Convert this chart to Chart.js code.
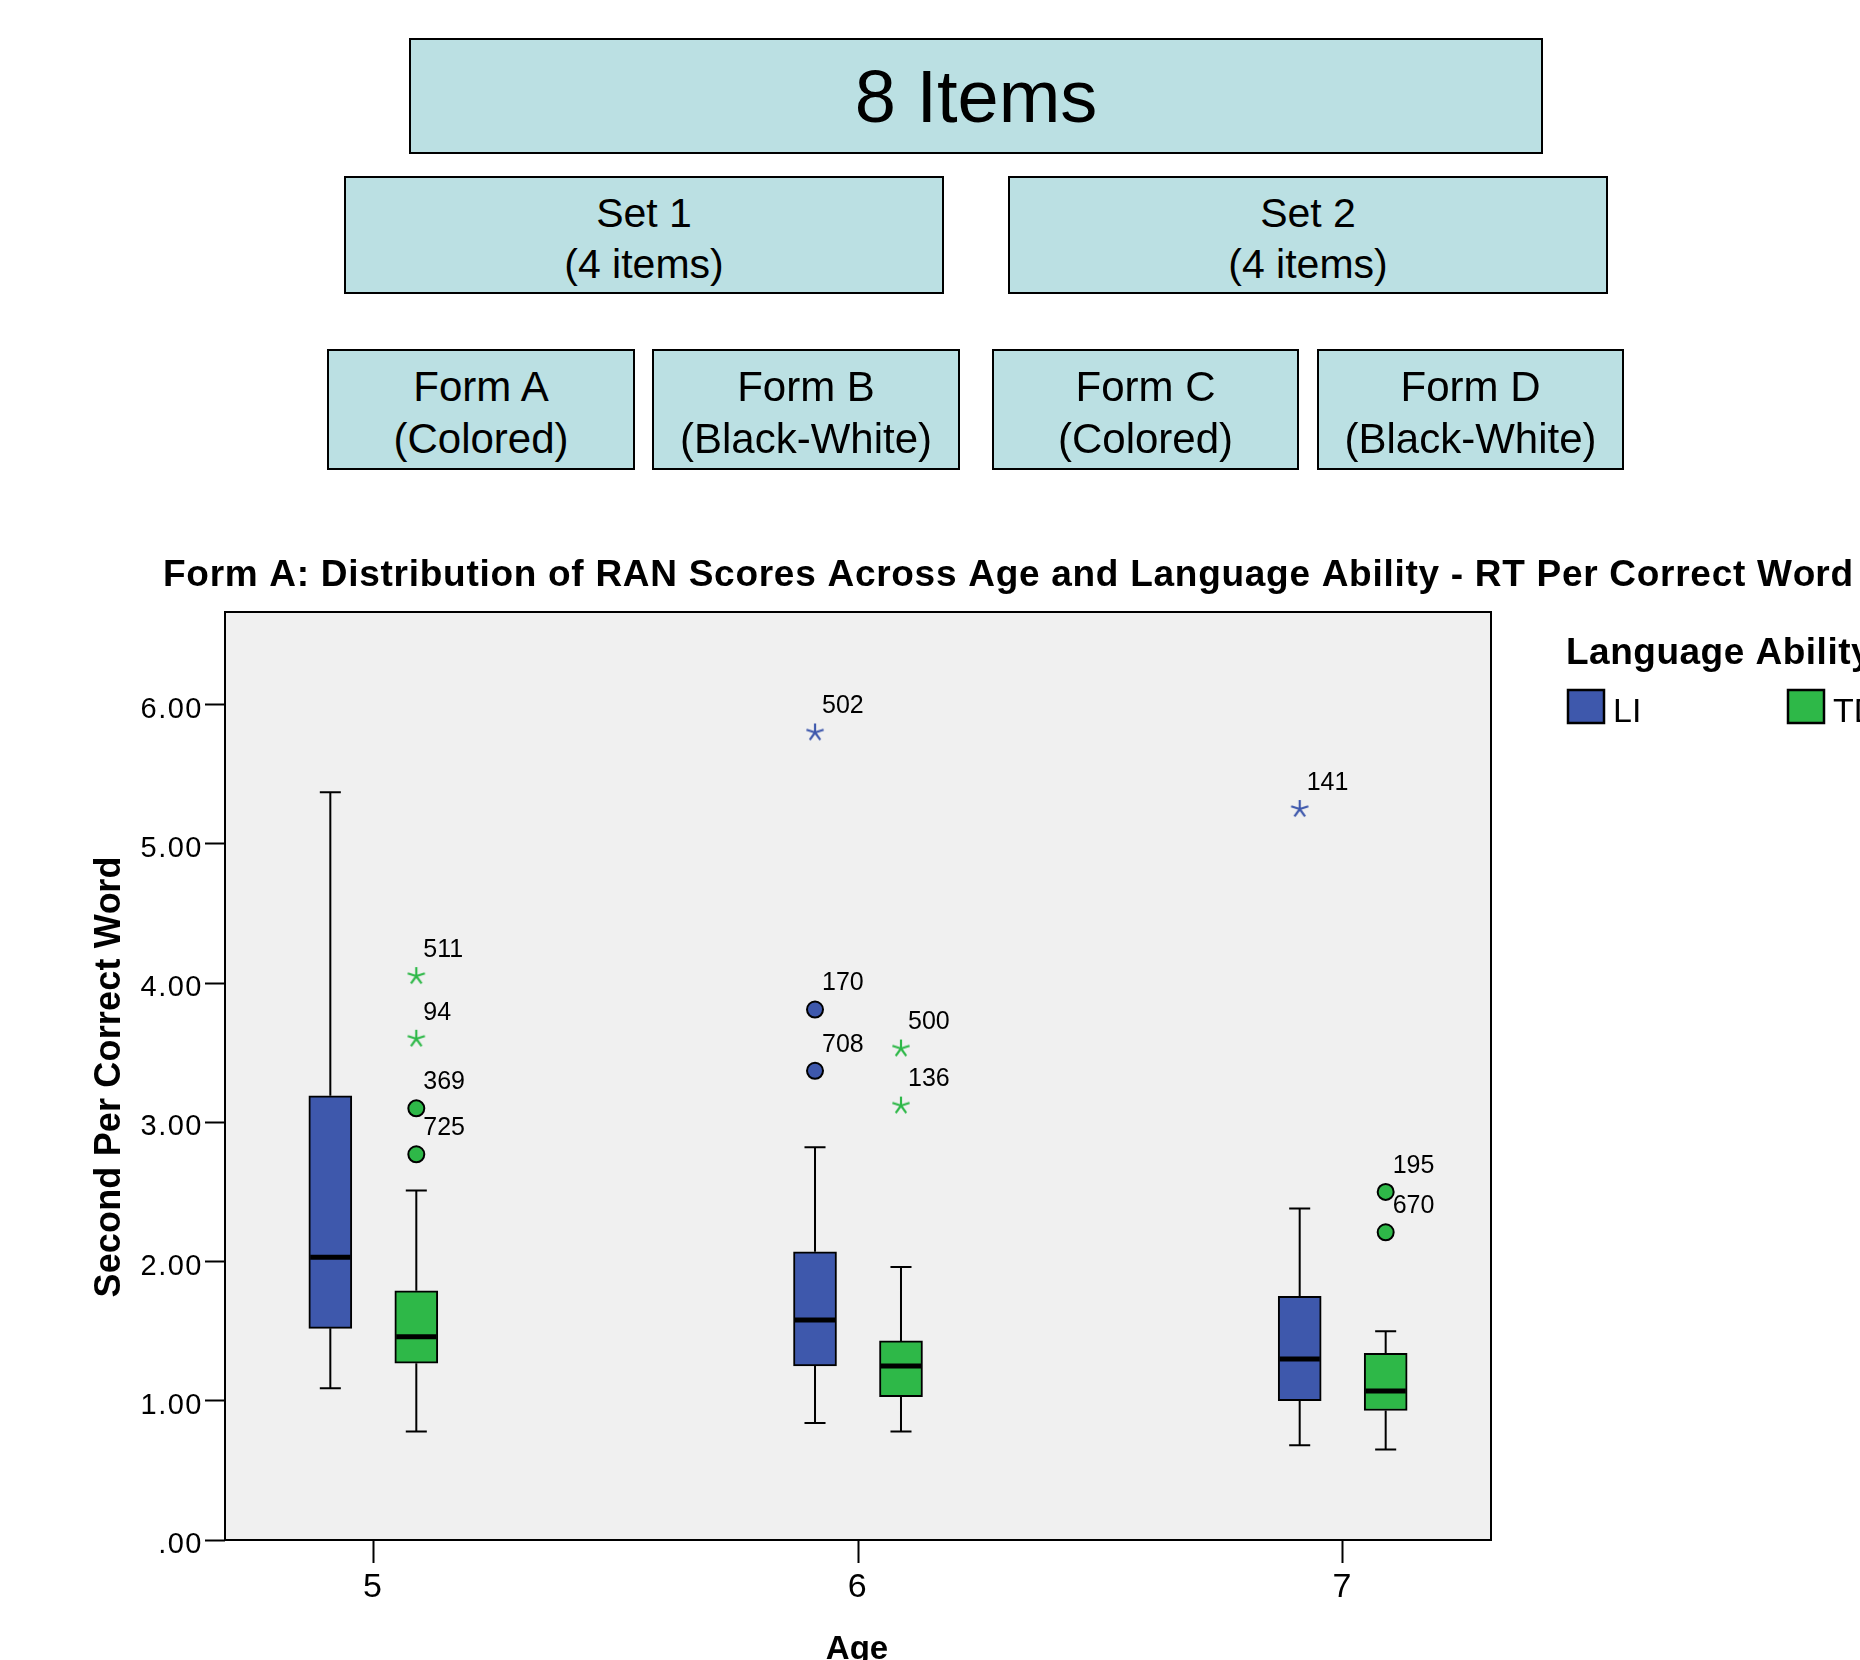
<!DOCTYPE html>
<html>
<head>
<meta charset="utf-8">
<title>Form A: Distribution of RAN Scores</title>
<script src="https://cdn.jsdelivr.net/npm/chart.js"></script>
<style>
  html, body { margin:0; padding:0; background:#ffffff; }
  #wrap { position:relative; width:1860px; height:1660px; overflow:hidden; background:#fff; }
  #chart { position:absolute; left:0; top:0; width:1860px; height:1660px; }
  .node { position:absolute; box-sizing:border-box; background:#BBE0E3; border:2px solid #000;
          font-family:"Liberation Sans", Arial, sans-serif; color:#000; text-align:center;
          display:flex; flex-direction:column; justify-content:center; align-items:center; }
  .node div { white-space:nowrap; }
</style>
</head>
<body>
<div id="wrap"><canvas id="chart" width="1860" height="1660"></canvas></div>
<script>
// ---------------- DATA ----------------
const ages = [5, 6, 7];
const xTickLabels = ['5', '6', '7'];
const yTickValues = [0, 1, 2, 3, 4, 5, 6];
const yTickLabels = ['.00', '1.00', '2.00', '3.00', '4.00', '5.00', '6.00'];
const groupNames = ['LI', 'TD'];

// LI box statistics per age
const liMin    = [1.09, 0.84, 0.68];
const liQ1     = [1.52, 1.25, 1.00];
const liMedian = [2.03, 1.58, 1.30];
const liQ3     = [3.19, 2.07, 1.75];
const liMax    = [5.37, 2.82, 2.38];

// TD box statistics per age
const tdMin    = [0.78, 0.78, 0.65];
const tdQ1     = [1.27, 1.03, 0.93];
const tdMedian = [1.46, 1.25, 1.07];
const tdQ3     = [1.79, 1.43, 1.34];
const tdMax    = [2.51, 1.96, 1.50];

// Outliers (circle) and extremes (star)
const liOutAge     = [6, 6, 6, 7];
const liOutValue   = [5.80, 3.81, 3.37, 5.25];
const liOutId      = ['502', '170', '708', '141'];
const liOutExtreme = [true, false, false, true];

const tdOutAge     = [5, 5, 5, 5, 6, 6, 7, 7];
const tdOutValue   = [4.05, 3.60, 3.10, 2.77, 3.53, 3.12, 2.50, 2.21];
const tdOutId      = ['511', '94', '369', '725', '500', '136', '195', '670'];
const tdOutExtreme = [true, true, false, false, true, true, false, false];

const titleText = 'Form A: Distribution of RAN Scores Across Age and Language Ability - RT Per Correct Word';
const yTitle = 'Second Per Correct Word';
const xTitle = 'Age';
const legendTitle = 'Language Ability';

// Diagram above the chart
const diagram = [
  { lines: ['8 Items'], x: 409, y: 38, w: 1134, h: 116, font: 74, lh: null, nudge: 0 },
  { lines: ['Set 1', '(4 items)'], x: 344, y: 176, w: 600, h: 118, font: 41, lh: 51, nudge: 7 },
  { lines: ['Set 2', '(4 items)'], x: 1008, y: 176, w: 600, h: 118, font: 41, lh: 51, nudge: 7 },
  { lines: ['Form A', '(Colored)'], x: 327, y: 349, w: 308, h: 121, font: 42, lh: 52, nudge: 6 },
  { lines: ['Form B', '(Black-White)'], x: 652, y: 349, w: 308, h: 121, font: 42, lh: 52, nudge: 6 },
  { lines: ['Form C', '(Colored)'], x: 992, y: 349, w: 307, h: 121, font: 42, lh: 52, nudge: 6 },
  { lines: ['Form D', '(Black-White)'], x: 1317, y: 349, w: 307, h: 121, font: 42, lh: 52, nudge: 6 }
];

// ---------------- DIAGRAM ----------------
const wrap = document.getElementById('wrap');
diagram.forEach(n => {
  const d = document.createElement('div');
  d.className = 'node';
  d.style.left = n.x + 'px'; d.style.top = n.y + 'px';
  d.style.width = n.w + 'px'; d.style.height = n.h + 'px';
  d.style.fontSize = n.font + 'px';
  if (n.lh) d.style.lineHeight = n.lh + 'px';
  d.style.paddingTop = n.nudge + 'px';
  n.lines.forEach(t => { const l = document.createElement('div'); l.textContent = t; d.appendChild(l); });
  wrap.appendChild(d);
});

// ---------------- CHART ----------------
const FONT = '"Liberation Sans", Arial, Helvetica, sans-serif';
Chart.defaults.font.family = FONT;
Chart.defaults.color = '#000';

const liColor = '#3E58AC';
const tdColor = '#2EB848';
const DODGE = 0.0887, CAP_HALF = 0.0217, MED_HALF = 0.0415;

function makeStar(color) {
  const c = document.createElement('canvas');
  c.width = 22; c.height = 22;
  const g = c.getContext('2d');
  g.strokeStyle = color; g.lineWidth = 2.2; g.lineCap = 'butt';
  g.translate(11, 11);
  for (let k = 0; k < 5; k++) {
    const a = -Math.PI / 2 + k * 2 * Math.PI / 5;
    g.beginPath(); g.moveTo(0, 0); g.lineTo(9 * Math.cos(a), 9 * Math.sin(a)); g.stroke();
  }
  return c;
}

const seriesList = [
  { name: groupNames[0], color: liColor, off: -DODGE, min: liMin, q1: liQ1, med: liMedian, q3: liQ3, max: liMax,
    oAge: liOutAge, oVal: liOutValue, oId: liOutId, oExt: liOutExtreme },
  { name: groupNames[1], color: tdColor, off: DODGE, min: tdMin, q1: tdQ1, med: tdMedian, q3: tdQ3, max: tdMax,
    oAge: tdOutAge, oVal: tdOutValue, oId: tdOutId, oExt: tdOutExtreme }
];

const datasets = [];
seriesList.forEach(s => {
  datasets.push({
    type: 'bar', label: s.name,
    data: ages.map((a, i) => ({ x: a + s.off, y: [s.q1[i], s.q3[i]] })),
    backgroundColor: s.color, borderColor: '#000', borderWidth: 2, borderSkipped: false,
    barThickness: 43, grouped: false, order: 2
  });
  const w = [];
  ages.forEach((a, i) => {
    const c = a + s.off;
    w.push({ x: c, y: s.q3[i] }, { x: c, y: s.max[i] }, { x: c, y: null },
           { x: c - CAP_HALF, y: s.max[i] }, { x: c + CAP_HALF, y: s.max[i] }, { x: c, y: null },
           { x: c, y: s.q1[i] }, { x: c, y: s.min[i] }, { x: c, y: null },
           { x: c - CAP_HALF, y: s.min[i] }, { x: c + CAP_HALF, y: s.min[i] }, { x: c, y: null });
  });
  datasets.push({ type: 'line', label: s.name + ' whiskers', data: w, borderColor: '#000', borderWidth: 2,
    pointRadius: 0, pointHoverRadius: 0, spanGaps: false, fill: false, tension: 0, order: 3 });
  const m = [];
  ages.forEach((a, i) => {
    const c = a + s.off;
    m.push({ x: c - MED_HALF, y: s.med[i] }, { x: c + MED_HALF, y: s.med[i] }, { x: c, y: null });
  });
  datasets.push({ type: 'line', label: s.name + ' median', data: m, borderColor: '#000', borderWidth: 5,
    borderCapStyle: 'butt', pointRadius: 0, pointHoverRadius: 0, spanGaps: false, fill: false, tension: 0, order: 1 });
  const circ = [], star = [];
  s.oAge.forEach((a, i) => {
    const p = { x: a + s.off, y: s.oVal[i], id: s.oId[i] };
    (s.oExt[i] ? star : circ).push(p);
  });
  datasets.push({ type: 'scatter', label: s.name + ' outliers', data: circ, pointStyle: 'circle',
    pointRadius: 8, pointHoverRadius: 8, backgroundColor: s.color, borderColor: '#000', borderWidth: 2,
    order: 0, outlier: true });
  datasets.push({ type: 'scatter', label: s.name + ' extremes', data: star, pointStyle: makeStar(s.color),
    pointRadius: 9, pointHoverRadius: 9, order: 0, outlier: true });
});

// text with horizontal stretch (sx), letter spacing (ls) and extra word spacing (ws);
// if opts.width is given, letter spacing is computed to fill that width.
function spacedText(ctx, text, x, y, font, opts) {
  ctx.save();
  if ('letterSpacing' in ctx) ctx.letterSpacing = '0px';
  ctx.font = font;
  ctx.fillStyle = '#000';
  ctx.textBaseline = 'alphabetic';
  ctx.textAlign = 'left';
  const sx = opts.sx || 1;
  const ws = opts.ws || 0;
  const n = text.length;
  const spaces = (text.match(/ /g) || []).length;
  const natural = ctx.measureText(text).width * sx;
  let ls = opts.ls || 0;
  if (opts.width) ls = (opts.width - natural - spaces * ws) / (n - 1);
  const total = natural + ls * (n - 1) + spaces * ws;
  ctx.translate(x, y);
  if (opts.rotate) ctx.rotate(opts.rotate);
  let start = 0;
  if (opts.align === 'center') start = -total / 2;
  else if (opts.align === 'right') start = -total;
  let extra = 0;
  for (let i = 0; i < n; i++) {
    const pos = start + ctx.measureText(text.slice(0, i)).width * sx + ls * i + extra;
    ctx.save();
    ctx.translate(pos, 0);
    ctx.scale(sx, 1);
    ctx.fillText(text[i], 0, 0);
    ctx.restore();
    if (text[i] === ' ') extra += ws;
  }
  ctx.restore();
}

const decor = {
  id: 'decor',
  beforeDraw(chart) {
    const { ctx, chartArea: a } = chart;
    ctx.save();
    ctx.fillStyle = '#F0F0F0';
    ctx.fillRect(a.left, a.top, a.right - a.left, a.bottom - a.top);
    ctx.restore();
    if ('letterSpacing' in ctx) ctx.letterSpacing = '1.5px';
  },
  beforeDatasetsDraw(chart) {
    if ('letterSpacing' in chart.ctx) chart.ctx.letterSpacing = '0px';
  },
  afterDatasetsDraw(chart) {
    const ctx = chart.ctx;
    ctx.save();
    ctx.font = '25px ' + FONT;
    ctx.fillStyle = '#000';
    ctx.textAlign = 'left';
    ctx.textBaseline = 'middle';
    chart.data.datasets.forEach((ds, di) => {
      if (!ds.outlier) return;
      const meta = chart.getDatasetMeta(di);
      meta.data.forEach((el, i) => { ctx.fillText(ds.data[i].id, el.x + 7, el.y - 26); });
    });
    ctx.restore();
  },
  afterDraw(chart) {
    const { ctx, chartArea: a } = chart;
    ctx.save();
    ctx.strokeStyle = '#000';
    ctx.lineWidth = 2;
    ctx.strokeRect(a.left, a.top, a.right - a.left, a.bottom - a.top);
    ctx.restore();
    // titles
    spacedText(ctx, titleText, 163, 586, 'bold 37px ' + FONT, { width: 1690 });
    spacedText(ctx, yTitle, 120, 1077, 'bold 36px ' + FONT, { width: 441, align: 'center', rotate: -Math.PI / 2 });
    spacedText(ctx, xTitle, 857, 1659, 'bold 33px ' + FONT, { align: 'center' });
    // legend
    spacedText(ctx, legendTitle, 1566, 664, 'bold 37px ' + FONT, { ls: 0.5 });
    const lx = [1568, 1788];
    seriesList.forEach((s, i) => {
      ctx.save();
      ctx.fillStyle = s.color;
      ctx.fillRect(lx[i], 690, 36, 33);
      ctx.strokeStyle = '#000'; ctx.lineWidth = 2.5;
      ctx.strokeRect(lx[i], 690, 36, 33);
      ctx.restore();
      spacedText(ctx, s.name, lx[i] + 45, 722, '34px ' + FONT, {});
    });
  }
};

const tickGrid = (len) => ({ display: true, drawOnChartArea: false, drawTicks: true, tickLength: len,
  tickWidth: 2, tickColor: '#000', color: '#000', offset: false });

new Chart(document.getElementById('chart'), {
  type: 'bar',
  data: { datasets },
  options: {
    responsive: false,
    animation: false,
    devicePixelRatio: 1,
    layout: { padding: { left: 0, top: 612, right: 369, bottom: 0 } },
    plugins: { legend: { display: false }, tooltip: { enabled: false }, title: { display: false } },
    scales: {
      x: {
        type: 'linear', min: 4.694, max: 7.306, offset: false,
        afterBuildTicks: s => { s.ticks = ages.map(v => ({ value: v })); },
        afterFit: s => { s.height = 120; },
        ticks: { callback: (v, i) => xTickLabels[i], font: { size: 34 }, color: '#000', padding: 4,
                 maxRotation: 0, autoSkip: false },
        grid: tickGrid(23),
        border: { display: false }
      },
      y: {
        type: 'linear', min: 0, max: 6.665,
        afterBuildTicks: s => { s.ticks = yTickValues.map(v => ({ value: v })); },
        afterFit: s => { s.width = 225; },
        ticks: { callback: (v, i) => yTickLabels[i], font: { size: 29 }, color: '#000', padding: 2,
                 labelOffset: 5, autoSkip: false },
        grid: tickGrid(20),
        border: { display: false }
      }
    }
  },
  plugins: [decor]
});
</script>
</body>
</html>
